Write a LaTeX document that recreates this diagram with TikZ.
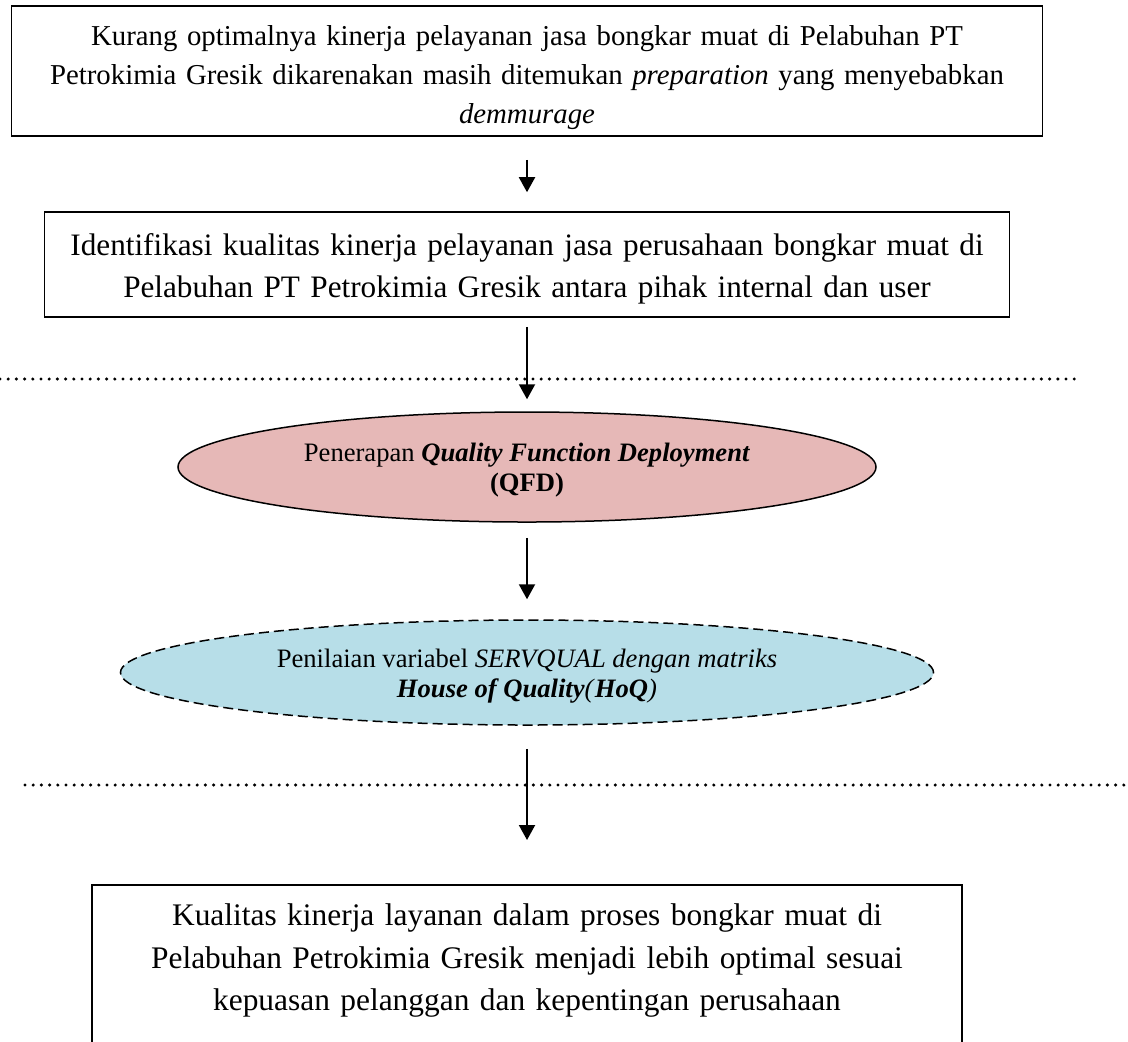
\documentclass[tikz,border=0pt]{standalone}
\usepackage{fontspec}
\setmainfont{Liberation Serif}
\usetikzlibrary{arrows.meta, shapes.geometric}
\definecolor{qfdpink}{HTML}{E6B8B7}
\definecolor{hoqblue}{HTML}{B7DEE8}

\begin{document}
\begin{tikzpicture}[> = {Triangle[length=7.5pt, width=8pt]}, % arrow head style
                x = 0.5pt, y = -0.5pt, % one unit is one pixel
                line width = 1pt % line style
            ]

            \tikzstyle{box}=[draw = black, line width = 0.8pt, rectangle,
            inner sep = 0pt, align = center]
            \tikzstyle{oval}=[draw = black, line width = 0.75pt, ellipse,
            inner sep = 0pt, align = center, font = \fontsize{13.3pt}{15pt}\selectfont]
            \tikzstyle{dotline}=[line width = 1.7pt, dash pattern = on 0pt off 4.1pt,
            line cap = round]

            \clip (0,0) rectangle (1128,1041);

            % dotted separators
            \coordinate (sep1l) at (0,379); \coordinate (sep1r) at (1081,379);
            \coordinate (sep2l) at (25,785); \coordinate (sep2r) at (1128,785);
            \draw[dotline] (sep1l) -- (sep1r);
            \draw[dotline] (sep2l) -- (sep2r);

            \node (problem) [box, text width = 515.5pt, minimum height = 65pt,
            font = \fontsize{14.4pt}{19.5pt}\selectfont] at (527,71)
            {\rule{0pt}{17pt}Kurang optimalnya kinerja pelayanan jasa bongkar muat di Pelabuhan PT\\
            Petrokimia Gresik dikarenakan masih ditemukan \textit{preparation} yang menyebabkan\\
            \textit{demmurage}};
            \node (identify) [box, text width = 482.5pt, minimum height = 52.5pt,
            font = \fontsize{15.6pt}{21pt}\selectfont] at (527,264.5)
            {\rule{0pt}{15.5pt}Identifikasi kualitas kinerja pelayanan jasa perusahaan bongkar muat di\\
            Pelabuhan PT Petrokimia Gresik antara pihak internal dan user};
            \node (qfd) [oval, fill = qfdpink, minimum width = 349pt,
            minimum height = 55pt] at (527,467)
            {\rule{0pt}{12pt}Penerapan \textbf{\textit{Quality Function Deployment}}\\
            \textbf{(QFD)}};
            \node (hoq) [oval, fill = hoqblue, dash pattern = on 5pt off 2.5pt,
            minimum width = 406.5pt, minimum height = 52.5pt] at (527,672.5)
            {\rule{0pt}{13pt}Penilaian variabel \textit{SERVQUAL dengan matriks}\\
            \textbf{\textit{House of Quality}}\textit{(}\textbf{\textit{HoQ}}\textit{)}};
            \node (result) [box, anchor = north, text width = 435pt, inner ysep = 9.5pt,
            font = \fontsize{15.7pt}{21.25pt}\selectfont] at (527,884)
            {Kualitas kinerja layanan dalam proses bongkar muat di\\
            Pelabuhan Petrokimia Gresik menjadi lebih optimal sesuai\\
            kepuasan pelanggan dan kepentingan perusahaan\\ ~};

            \path[->] (problem) edge[shorten <= 11.5pt, shorten >= 9.5pt] (identify);
            \path[->] (identify) edge[shorten <= 4.5pt, shorten >= 6pt] (qfd);
            \path[->] (qfd) edge[shorten <= 7.5pt, shorten >= 10pt] (hoq);
            \path[->] (hoq) edge[shorten <= 11.5pt, shorten >= 22pt] (result);\end{tikzpicture}
\end{document}
